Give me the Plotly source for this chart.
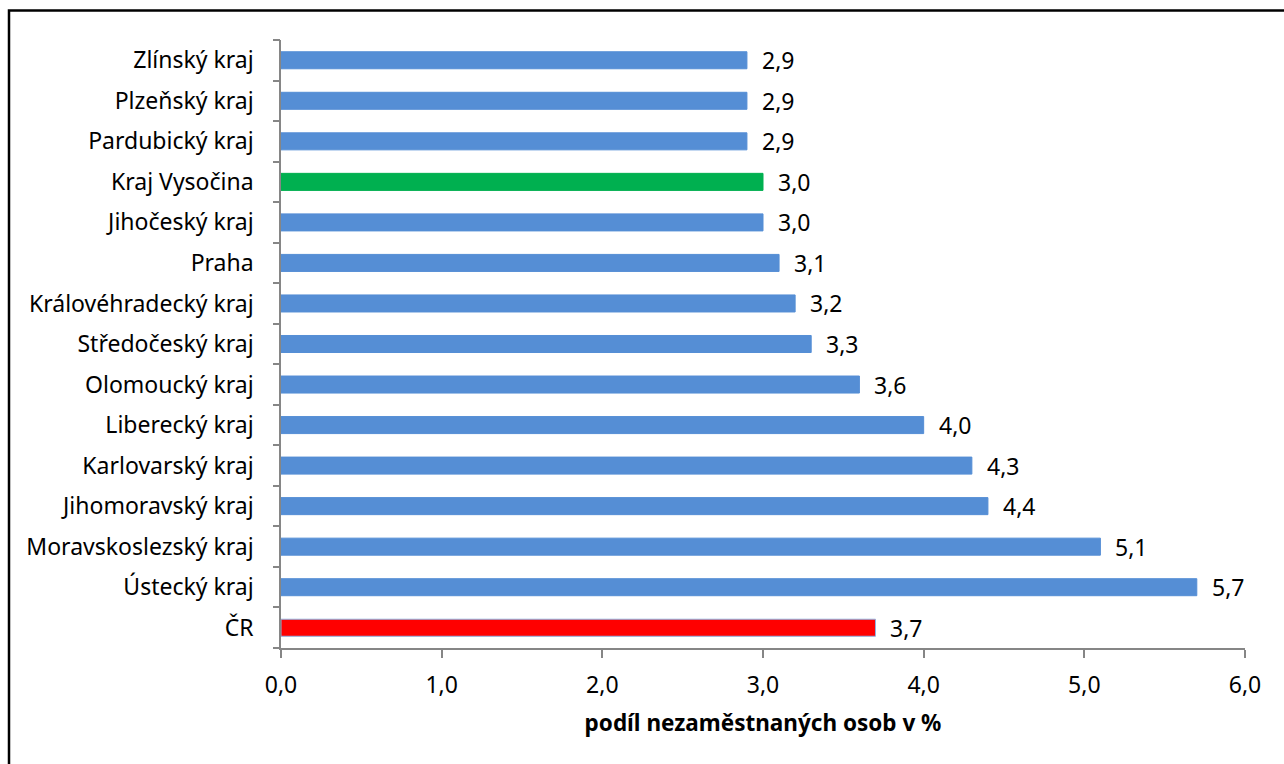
import plotly.graph_objects as go

categories = ["ČR", "Ústecký kraj", "Moravskoslezský kraj", "Jihomoravský kraj",
              "Karlovarský kraj", "Liberecký kraj", "Olomoucký kraj", "Středočeský kraj",
              "Královéhradecký kraj", "Praha", "Jihočeský kraj", "Kraj Vysočina",
              "Pardubický kraj", "Plzeňský kraj", "Zlínský kraj"]
values = [3.7, 5.7, 5.1, 4.4, 4.3, 4.0, 3.6, 3.3, 3.2, 3.1, 3.0, 3.0, 2.9, 2.9, 2.9]
x_ticks = [0, 1, 2, 3, 4, 5, 6]
x_title = "podíl nezaměstnaných osob v %"

BLUE = "#558ED5"
colors = []
for c in categories:
    if c == "ČR":
        colors.append("#FF0000")
    elif c == "Kraj Vysočina":
        colors.append("#00B050")
    else:
        colors.append(BLUE)
line_colors = ["#8DB3E2" if c == "ČR" else col for c, col in zip(categories, colors)]

ypos = list(range(len(categories)))
FONT = "Noto Sans"
FS = 23

fig = go.Figure()
fig.add_trace(go.Bar(
    x=values, y=ypos, orientation="h",
    marker=dict(color=colors, line=dict(color=line_colors, width=1)),
    width=0.42, showlegend=False, hoverinfo="skip",
))
# invisible trace to activate y2
fig.add_trace(go.Scatter(x=[None], y=[None], yaxis="y2", showlegend=False))

for yv, v in zip(ypos, values):
    fig.add_annotation(x=v, y=yv, xref="x", yref="y", text=f"{v:.1f}".replace(".", ","),
                       showarrow=False, xanchor="left", xshift=13,
                       font=dict(family=FONT, size=FS, color="black"))

W, H = 1284, 764
ml, mr, mt, mb = 281, 39, 40, 116
pw, ph = W - ml - mr, H - mt - mb


def px_x(px):
    return (px - ml) / pw


def px_y(py):
    return (H - mb - py) / ph


fig.add_shape(type="rect", xref="paper", yref="paper",
              x0=px_x(9), x1=px_x(1320), y0=px_y(800), y1=px_y(10.5),
              line=dict(color="black", width=2.5), fillcolor="rgba(0,0,0,0)", layer="below")

fig.update_layout(
    width=W, height=H,
    margin=dict(l=ml, r=mr, t=mt, b=mb),
    paper_bgcolor="white", plot_bgcolor="white",
    separators=", ",
    font=dict(family=FONT, size=FS, color="black"),
    xaxis=dict(
        range=[0, 6], tickvals=x_ticks, tickformat=".1f",
        showgrid=False, zeroline=False,
        showline=True, linecolor="#868686", linewidth=1.5,
        ticks="outside", ticklen=8, tickcolor="#868686", tickwidth=1.5,
        ticklabelstandoff=8,
        tickfont=dict(family=FONT, size=FS, color="black"),
        title=dict(text=f"<b>{x_title}</b>", font=dict(family=FONT, size=22.5, color="black"),
                   standoff=16),
    ),
    yaxis=dict(
        range=[-0.5, len(categories) - 0.5],
        tickvals=ypos, ticktext=categories, ticks="",
        showgrid=False, zeroline=False,
        showline=True, linecolor="#868686", linewidth=1.5,
        tickfont=dict(family=FONT, size=FS, color="black"),
        ticklabelstandoff=21,
    ),
    yaxis2=dict(
        range=[-0.5, len(categories) - 0.5], overlaying="y", side="left",
        tickvals=[i - 0.5 for i in range(len(categories) + 1)],
        showticklabels=False, ticks="outside", ticklen=7,
        tickcolor="#868686", tickwidth=1.5,
        showgrid=False, zeroline=False, showline=False,
    ),
)

fig.write_html("out.html", config={"displayModeBar": False},
               post_script="document.body.style.margin='0';")
